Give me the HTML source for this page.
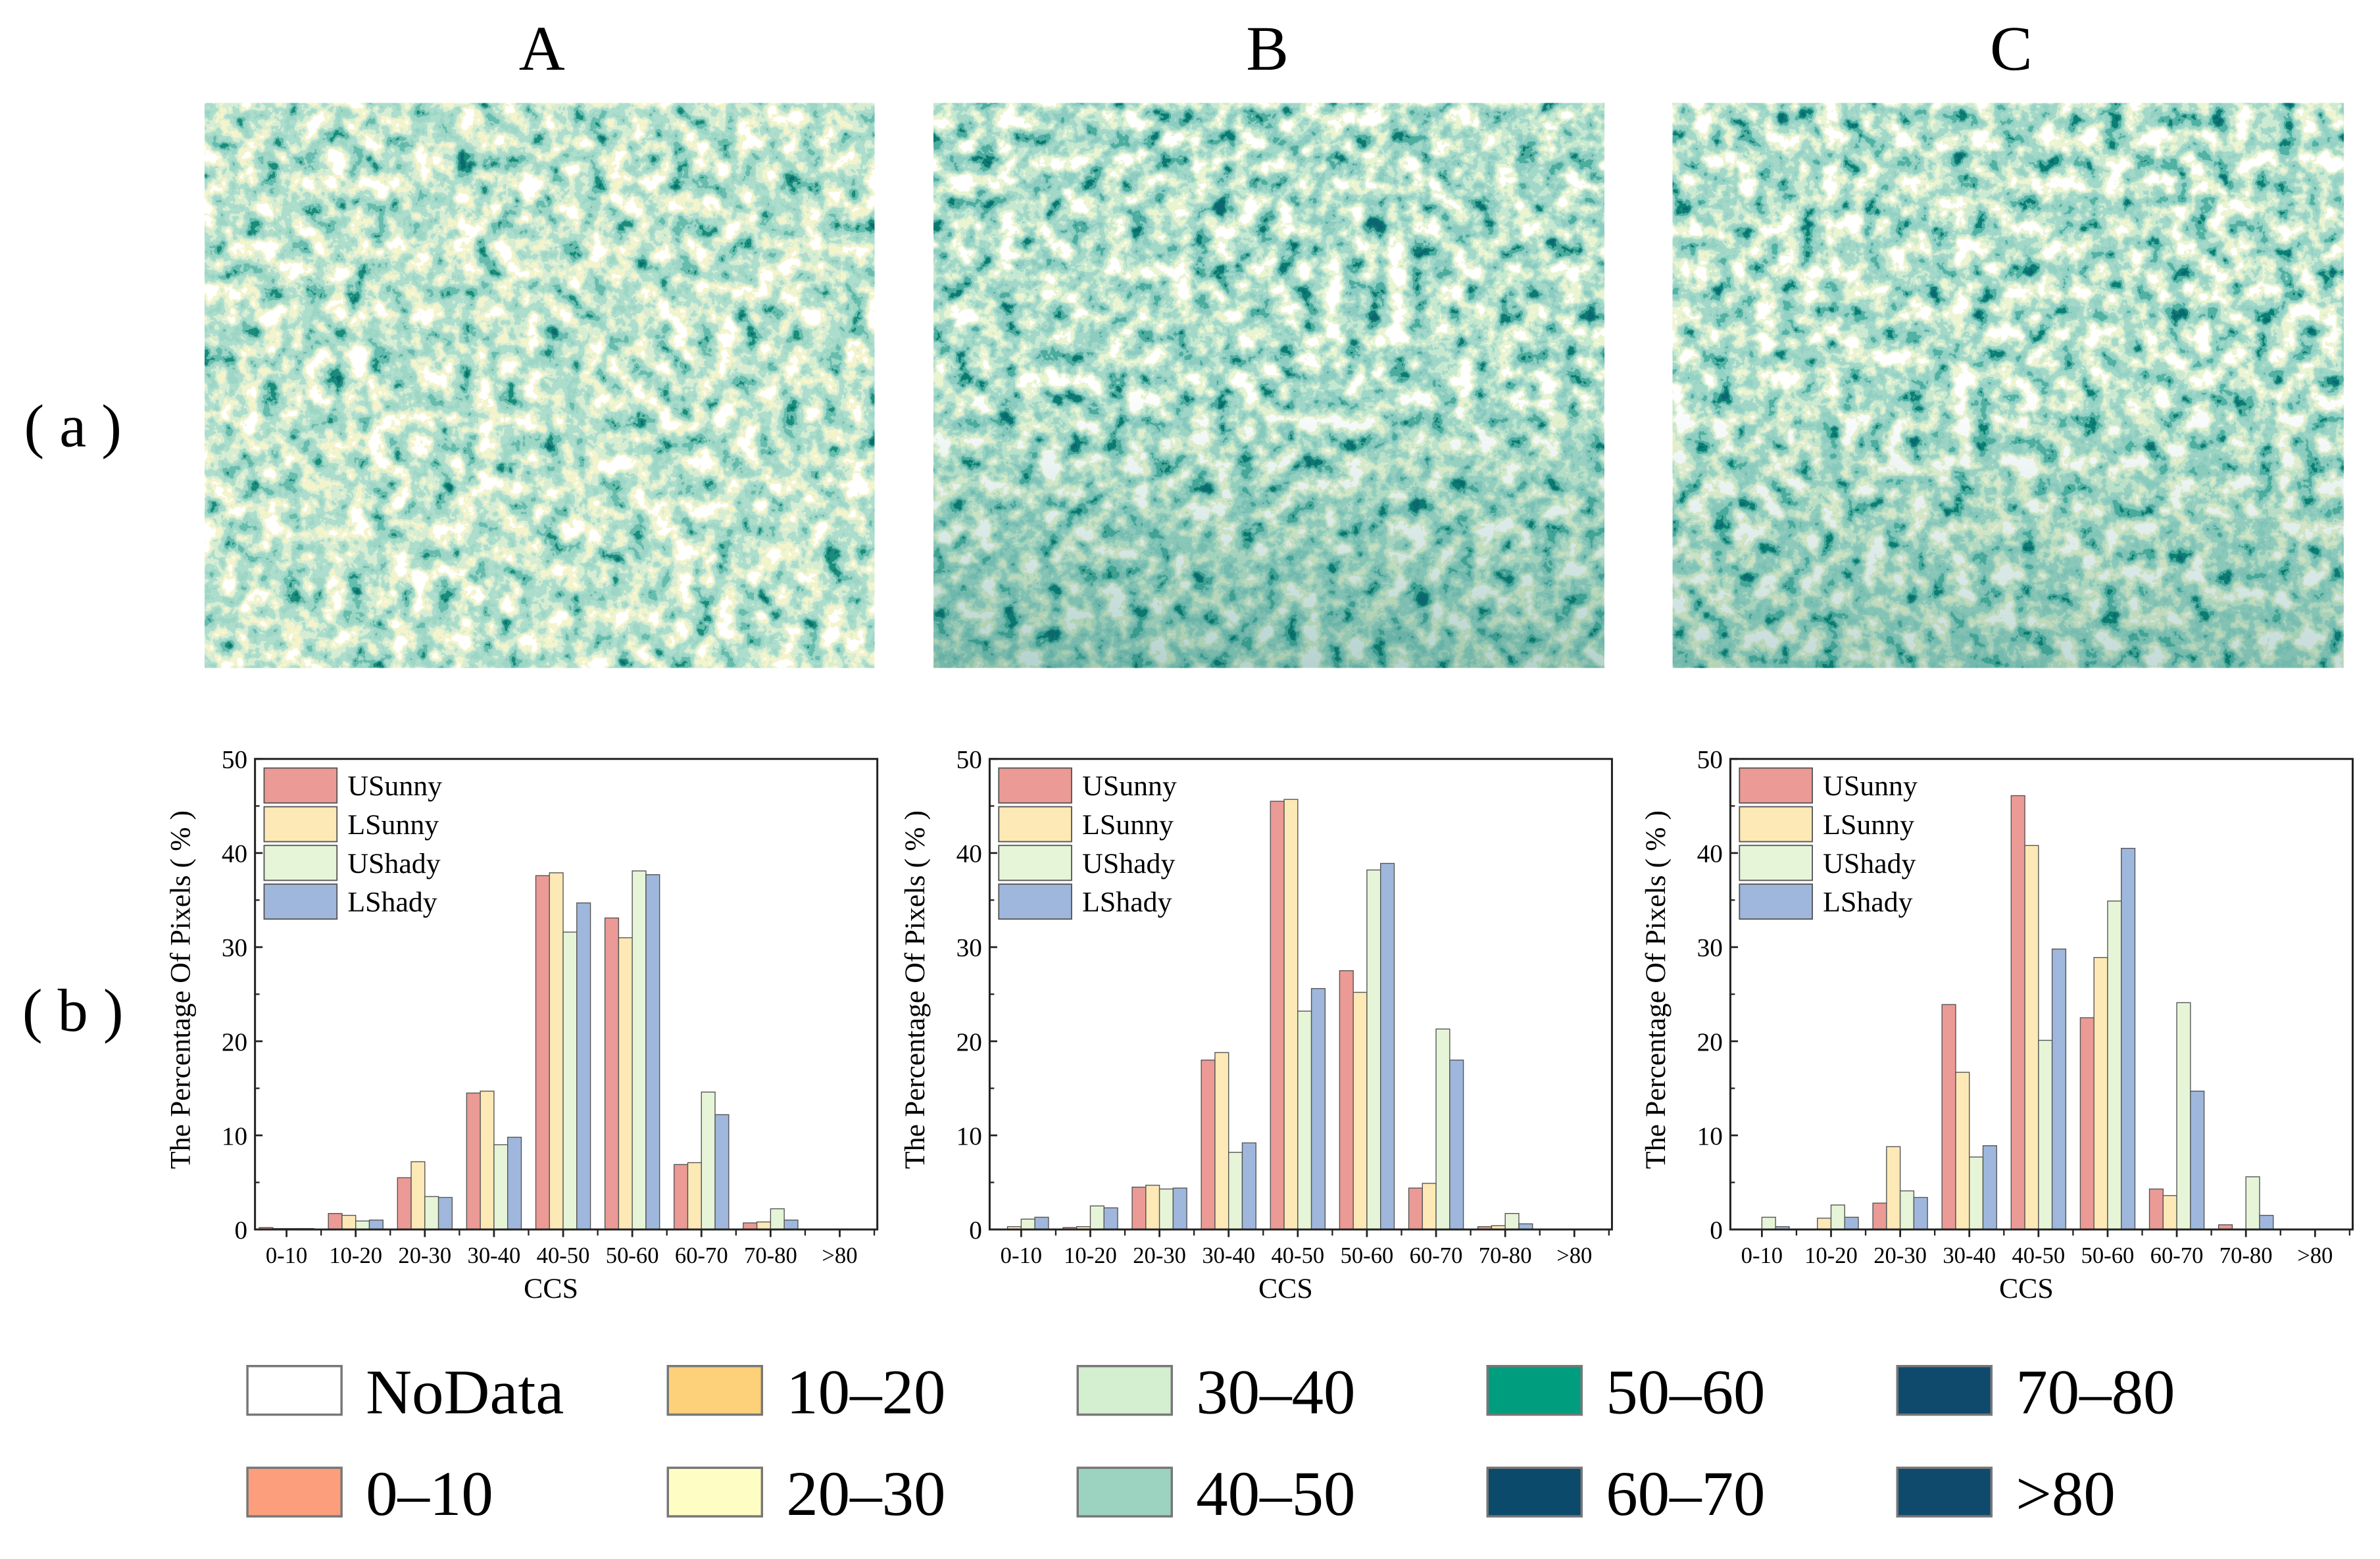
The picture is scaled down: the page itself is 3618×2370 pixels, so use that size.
<!DOCTYPE html>
<html><head><meta charset="utf-8"><style>
html,body{margin:0;padding:0;background:#fff;}
svg{display:block;font-family:"Liberation Serif",serif;}
</style></head><body>
<svg id="fig" width="3618" height="2370" viewBox="0 0 1568 1027.1" preserveAspectRatio="none" xmlns="http://www.w3.org/2000/svg">
<defs>
<filter id="mapA" filterUnits="userSpaceOnUse" x="135" y="68" width="441" height="372" color-interpolation-filters="sRGB">
<feTurbulence type="fractalNoise" baseFrequency="0.07" numOctaves="4" seed="3"/>
<feColorMatrix type="matrix" values="1 0 0 0 0 1 0 0 0 0 1 0 0 0 0 0 0 0 0 1"/>
<feComponentTransfer>
<feFuncR type="discrete" tableValues="1 1 1 1 0.96 0.84 0.68 0.62 0.40 0.10 0.05 0.05"/>
<feFuncG type="discrete" tableValues="1 1 1 1 0.96 0.93 0.87 0.84 0.74 0.55 0.42 0.42"/>
<feFuncB type="discrete" tableValues="1 1 1 1 0.80 0.83 0.80 0.78 0.68 0.48 0.45 0.45"/>
</feComponentTransfer>
</filter>
<filter id="mapB" filterUnits="userSpaceOnUse" x="615" y="68" width="442" height="372" color-interpolation-filters="sRGB">
<feTurbulence type="fractalNoise" baseFrequency="0.07" numOctaves="4" seed="11"/>
<feColorMatrix type="matrix" values="1 0 0 0 0 1 0 0 0 0 1 0 0 0 0 0 0 0 0 1"/>
<feComponentTransfer>
<feFuncR type="discrete" tableValues="1 1 1 1 0.92 0.78 0.64 0.55 0.30 0.05 0.05 0.05"/>
<feFuncG type="discrete" tableValues="1 1 1 1 0.96 0.91 0.85 0.80 0.68 0.48 0.40 0.40"/>
<feFuncB type="discrete" tableValues="1 1 1 1 0.82 0.82 0.79 0.76 0.62 0.45 0.45 0.45"/>
</feComponentTransfer>
</filter>
<filter id="mapC" filterUnits="userSpaceOnUse" x="1102" y="68" width="442" height="372" color-interpolation-filters="sRGB">
<feTurbulence type="fractalNoise" baseFrequency="0.07" numOctaves="4" seed="23"/>
<feColorMatrix type="matrix" values="1 0 0 0 0 1 0 0 0 0 1 0 0 0 0 0 0 0 0 1"/>
<feComponentTransfer>
<feFuncR type="discrete" tableValues="1 1 1 1 0.93 0.80 0.64 0.58 0.32 0.05 0.05 0.05"/>
<feFuncG type="discrete" tableValues="1 1 1 1 0.96 0.92 0.85 0.82 0.70 0.50 0.40 0.40"/>
<feFuncB type="discrete" tableValues="1 1 1 1 0.82 0.82 0.79 0.77 0.64 0.46 0.45 0.45"/>
</feComponentTransfer>
</filter>
<linearGradient id="darkBottom" x1="0" y1="0" x2="0" y2="1">
<stop offset="0" stop-color="#0a7a6a" stop-opacity="0"/>
<stop offset="0.5" stop-color="#0a7a6a" stop-opacity="0"/>
<stop offset="1" stop-color="#0a6a60" stop-opacity="0.3"/>
</linearGradient>
</defs>

<text x="357" y="46" font-size="42" text-anchor="middle">A</text>
<text x="835" y="46" font-size="42" text-anchor="middle">B</text>
<text x="1325" y="46" font-size="42" text-anchor="middle">C</text>
<text x="48" y="294" font-size="40" text-anchor="middle">( a )</text>
<text x="48" y="679" font-size="40" text-anchor="middle">( b )</text>

<g>
<rect x="135" y="68" width="441" height="372" fill="#fff" filter="url(#mapA)"/>
</g>
<g>
<rect x="615" y="68" width="442" height="372" fill="#fff" filter="url(#mapB)"/>
<rect x="615" y="68" width="442" height="372" fill="url(#darkBottom)"/>
</g>
<g>
<rect x="1102" y="68" width="442" height="372" fill="#fff" filter="url(#mapC)"/>
<rect x="1102" y="68" width="442" height="372" fill="url(#darkBottom)" opacity="0.8"/>
</g>

<g id="charts"></g>
<g id="maplegend"></g>
</svg>
<script>
const NS="http://www.w3.org/2000/svg";
const categories=["0-10","10-20","20-30","30-40","40-50","50-60","60-70","70-80",">80"];
const seriesNames=["USunny","LSunny","UShady","LShady"];
const seriesColors=["#eb9a95","#fde9b5","#e6f5d8","#9fb7dc"];
const yTicks=[0,10,20,30,40,50];
const aUSunny=[0.2,1.7,5.5,14.5,37.6,33.1,6.9,0.7,0];
const aLSunny=[0.1,1.5,7.2,14.7,37.9,31.0,7.1,0.8,0];
const aUShady=[0.1,0.9,3.5,9.0,31.6,38.1,14.6,2.2,0];
const aLShady=[0.1,1.0,3.4,9.8,34.7,37.7,12.2,1.0,0];
const bUSunny=[0,0.2,4.5,18.0,45.5,27.5,4.4,0.3,0];
const bLSunny=[0.3,0.3,4.7,18.8,45.7,25.2,4.9,0.4,0];
const bUShady=[1.1,2.5,4.3,8.2,23.2,38.2,21.3,1.7,0];
const bLShady=[1.3,2.3,4.4,9.2,25.6,38.9,18.0,0.6,0];
const cUSunny=[0,0,2.8,23.9,46.1,22.5,4.3,0.5,0];
const cLSunny=[0,1.2,8.8,16.7,40.8,28.9,3.6,0,0];
const cUShady=[1.3,2.6,4.1,7.7,20.1,34.9,24.1,5.6,0];
const cLShady=[0.3,1.3,3.4,8.9,29.8,40.5,14.7,1.5,0];
const legendLabels=["NoData","10–20","30–40","50–60","70–80","0–10","20–30","40–50","60–70",">80"];
const legendColors=["#ffffff","#fdd07a","#d4eed0","#009e7e","#0f4a6c","#fc9e7c","#fefec4","#9bd3c0","#0b4a6a","#0f4a6c"];

function mk(tag,attrs,parent){const e=document.createElementNS(NS,tag);for(const k in attrs)e.setAttribute(k,attrs[k]);parent.appendChild(e);return e;}
const charts=document.getElementById('charts');
const panels=[{id:"a",x0:168,data:[aUSunny,aLSunny,aUShady,aLShady]},{id:"b",x0:652,data:[bUSunny,bLSunny,bUShady,bLShady]},{id:"c",x0:1140,data:[cUSunny,cLSunny,cUShady,cLShady]}];
const W=410,yTop=500,yBot=810,yMax=50;
panels.forEach(p=>{
  const g=mk('g',{},charts);
  
  
  const sy=v=>yBot-(v/yMax)*(yBot-yTop);
  const step=W/categories.length;
  const sx=i=>p.x0+step*(i+0.5)-2;
  const bw=9;
  p.data.forEach((ser,si)=>{
    ser.forEach((v,ci)=>{
      if(v<=0)return;
      const x=sx(ci)-2*bw+si*bw;
      const r=mk('rect',{x:x,y:sy(v),width:bw,height:yBot-sy(v),fill:seriesColors[si],stroke:"#555",'stroke-width':0.6},g);
      
      
    });
  });
  const fr=mk('rect',{x:p.x0,y:yTop,width:W,height:yBot-yTop,fill:"none",stroke:"#222",'stroke-width':1.3},g);
  
  
  yTicks.forEach(t=>{
    mk('line',{x1:p.x0,x2:p.x0+5,y1:sy(t),y2:sy(t),stroke:"#222",'stroke-width':1.2},g);
    const tl=mk('text',{x:p.x0-5,y:sy(t)+6,'font-size':17,'text-anchor':'end'},g);
    tl.textContent=t;
    
    
    if(t<yMax) mk('line',{x1:p.x0,x2:p.x0+3,y1:sy(t+5),y2:sy(t+5),stroke:"#222",'stroke-width':1},g);
  });
  categories.forEach((c,i)=>{
    mk('line',{x1:sx(i),x2:sx(i),y1:yBot,y2:yBot+5,stroke:"#222",'stroke-width':1.2},g);
    mk('line',{x1:sx(i)+step/2,x2:sx(i)+step/2,y1:yBot,y2:yBot+4,stroke:"#222",'stroke-width':1},g);
    const tl=mk('text',{x:sx(i),y:yBot+22,'font-size':15,'text-anchor':'middle'},g);
    tl.textContent=c;
    
    
  });
  const xt=mk('text',{x:p.x0+W/2-10,y:855,'font-size':19,'text-anchor':'middle'},g);
  xt.textContent="CCS";
  
  
  const yt=mk('text',{x:0,y:0,'font-size':19,'text-anchor':'middle',transform:`translate(${p.x0-43},${(yTop+yBot)/2-3}) rotate(-90)`},g);
  yt.textContent="The Percentage Of Pixels ( % )";
  
  
  seriesNames.forEach((n,i)=>{
    const ly=506+i*25.5;
    const lr=mk('rect',{x:p.x0+6,y:ly,width:48,height:23,fill:seriesColors[i],stroke:"#555",'stroke-width':0.8},g);
    
    
    const lt=mk('text',{x:p.x0+61,y:ly+18,'font-size':19},g);
    lt.textContent=n;
    
    
  });
});
const ml=document.getElementById('maplegend');
const colX=[163,440,710,980,1250];
legendLabels.forEach((l,i)=>{
  const col=i%5,row=Math.floor(i/5);
  const x=colX[col],y=900+row*67;
  const r=mk('rect',{x:x,y:y,width:62,height:32,fill:legendColors[i],stroke:"#777",'stroke-width':1.5},ml);
  
  
  const t=mk('text',{x:x+78,y:y+31,'font-size':42},ml);
  t.textContent=l;
  
  
});
</script>
</body></html>
